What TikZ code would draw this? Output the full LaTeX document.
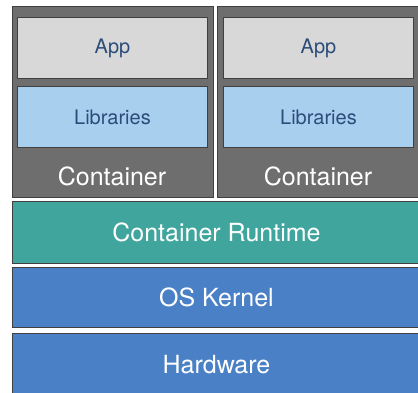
\documentclass[tikz,border=0pt]{standalone}
\usepackage{fontspec}
\setmainfont{TeX Gyre Heros}
\definecolor{ctrgray}{HTML}{6E6E6E}
\definecolor{appgray}{HTML}{D8D8D8}
\definecolor{libblue}{HTML}{A9CFEF}
\definecolor{labelblue}{HTML}{2C4C7A}
\definecolor{rtteal}{HTML}{3FA59D}
\definecolor{kernblue}{HTML}{4A80C6}
\tikzset{
  box/.style={draw=black!75, line width=0.9pt, rectangle, inner sep=0pt, anchor=north west},
  inner/.style={box, fill=#1, text=labelblue, font=\fontsize{20}{24}\selectfont,
    minimum width=190pt, minimum height=61pt},
  layer/.style={box, fill=#1, text=white, font=\fontsize{25}{30}\selectfont,
    minimum width=408pt, minimum height=61pt},
}
\begin{document}
\begin{tikzpicture}[x=1pt, y=-1pt]
    \useasboundingbox[fill=white] (0,0) rectangle (418,392);

    % two containers
    \node[box, fill=ctrgray, minimum width=201pt, minimum height=191pt] (ctrA) at (12,6) {};
    \node[box, fill=ctrgray, minimum width=203pt, minimum height=191pt] (ctrB) at (217,6) {};

    % app and libraries in each container
    \node[inner=appgray] (appA) at (17,17) {App};
    \node[inner=libblue] (libA) at (17,86) {Libraries};
    \node[inner=appgray] (appB) at (223,17) {App};
    \node[inner=libblue] (libB) at (223,86) {Libraries};

    % container labels
    \node[text=white, font=\fontsize{25}{30}\selectfont] (nameA) at (112,176) {Container};
    \node[text=white, font=\fontsize{25}{30}\selectfont] (nameB) at (318,176) {Container};

    % shared layers
    \node[layer=rtteal, minimum height=62pt] (rt) at (12,201) {Container Runtime};
    \node[layer=kernblue, minimum height=60pt] (kern) at (12,267) {OS Kernel};
    \node[layer=kernblue, minimum height=62pt] (hw) at (12,333) {Hardware};

\end{tikzpicture}
\end{document}
